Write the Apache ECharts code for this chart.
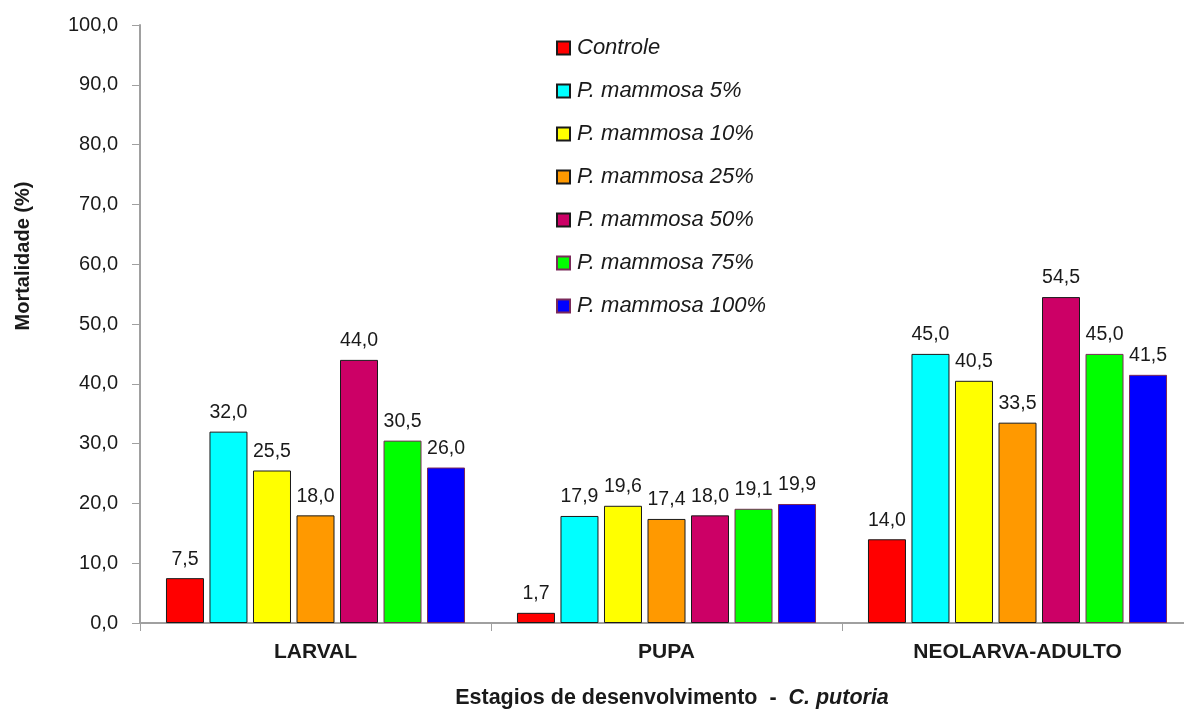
<!DOCTYPE html>
<html>
<head>
<meta charset="utf-8">
<title>Mortalidade - C. putoria</title>
<script src="https://cdn.jsdelivr.net/npm/echarts@6/dist/echarts.min.js"></script>
<style>
  html, body { margin: 0; padding: 0; background: #ffffff; }
  #chart { width: 1184px; height: 715px; }
</style>
</head>
<body>
<div id="chart"></div>
<script>
// Developmental stages (x axis)
const categories = ['LARVAL', 'PUPA', 'NEOLARVA-ADULTO'];

// Mortality (%) per treatment, one value per stage
const controle   = [7.5, 1.7, 14.0];
const mammosa5   = [32.0, 17.9, 45.0];
const mammosa10  = [25.5, 19.6, 40.5];
const mammosa25  = [18.0, 17.4, 33.5];
const mammosa50  = [44.0, 18.0, 54.5];
const mammosa75  = [30.5, 19.1, 45.0];
const mammosa100 = [26.0, 19.9, 41.5];

const seriesNames = ['Controle', 'P. mammosa 5%', 'P. mammosa 10%', 'P. mammosa 25%',
                     'P. mammosa 50%', 'P. mammosa 75%', 'P. mammosa 100%'];
const seriesData = [controle, mammosa5, mammosa10, mammosa25, mammosa50, mammosa75, mammosa100];
const fills   = ['#ff0000', '#00ffff', '#ffff00', '#ff9900', '#cc0066', '#00ff00', '#0000ff'];
const borders = ['#1a1a1a', '#1a1a1a', '#1a1a1a', '#1a1a1a', '#1a1a1a', '#7a2a5a', '#7a2a5a'];

// Y axis ticks
const yMin = 0, yMax = 100, yStep = 10;

const FONT = '"Liberation Sans", Arial, sans-serif';
const TEXT = '#1a1a1a';
const fmt = v => Number(v).toFixed(1).replace('.', ',');

const chart = echarts.init(document.getElementById('chart'), null, { renderer: 'canvas' });

const series = seriesNames.map((name, i) => ({
  name: name,
  type: 'bar',
  data: seriesData[i],
  barWidth: 38,
  barGap: '14.5%',
  itemStyle: { color: fills[i], borderColor: borders[i], borderWidth: 1 },
  label: {
    show: true,
    position: 'top',
    distance: 9,
    formatter: p => fmt(p.value),
    color: TEXT,
    fontFamily: FONT,
    fontSize: 19.5
  },
  emphasis: { disabled: true },
  animation: false
}));

chart.setOption({
  backgroundColor: '#ffffff',
  animation: false,
  // the plot runs a little past the right edge of the canvas
  grid: {
    left: 140, top: 25, width: 1053, height: 598,
    containLabel: false,
    outerBoundsMode: 'none'
  },
  legend: {
    orient: 'vertical',
    left: 556,
    top: 37,
    padding: 0,
    icon: 'rect',
    itemWidth: 13,
    itemHeight: 13,
    itemGap: 21,
    data: seriesNames,
    textStyle: {
      fontFamily: FONT,
      fontSize: 22,
      fontStyle: 'italic',
      color: TEXT,
      lineHeight: 20,
      padding: [0, 0, 0, 2]
    }
  },
  xAxis: {
    type: 'category',
    data: categories,
    axisLine: { lineStyle: { color: '#a0a0a0', width: 2 } },
    axisTick: { show: true, length: 8, lineStyle: { color: '#a0a0a0', width: 1 } },
    axisLabel: {
      margin: 19,
      fontFamily: FONT,
      fontSize: 21,
      fontWeight: 'bold',
      color: TEXT
    },
    splitLine: { show: false }
  },
  yAxis: {
    type: 'value',
    min: yMin,
    max: yMax,
    interval: yStep,
    axisLine: { show: true, lineStyle: { color: '#a0a0a0', width: 2 } },
    axisTick: { show: true, length: 8, lineStyle: { color: '#a0a0a0', width: 1 } },
    axisLabel: {
      margin: 22,
      formatter: v => fmt(v),
      fontFamily: FONT,
      fontSize: 20,
      color: TEXT
    },
    splitLine: { show: false }
  },
  graphic: [
    {
      type: 'text',
      x: 23,
      y: 256,
      rotation: Math.PI / 2,
      style: {
        text: 'Mortalidade (%)',
        fontFamily: FONT,
        fontSize: 20,
        fontWeight: 'bold',
        fill: TEXT,
        align: 'center',
        verticalAlign: 'middle'
      }
    },
    {
      type: 'text',
      x: 672,
      y: 698,
      style: {
        text: '{a|Estagios de desenvolvimento  -  }{b|C. putoria}',
        align: 'center',
        verticalAlign: 'middle',
        rich: {
          a: { fontFamily: FONT, fontSize: 21.5, fontWeight: 'bold', fill: TEXT, color: TEXT },
          b: { fontFamily: FONT, fontSize: 21.5, fontWeight: 'bold', fontStyle: 'italic', fill: TEXT, color: TEXT }
        }
      }
    }
  ],
  series: series
});
</script>
</body>
</html>
